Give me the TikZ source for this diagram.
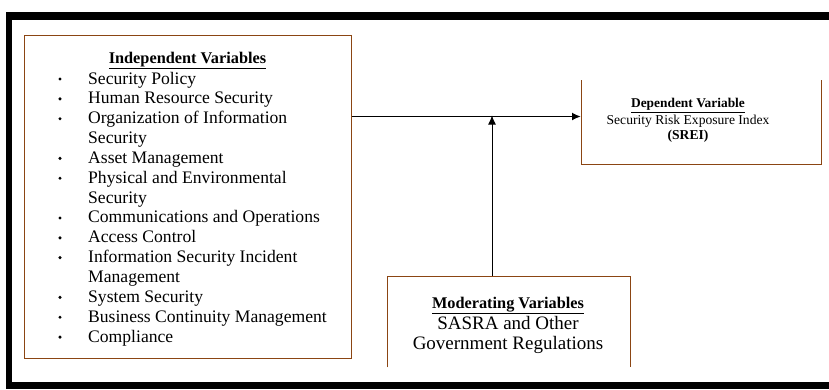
\documentclass[tikz,border=0pt]{standalone}
\usepackage{fontspec}
\setmainfont{Liberation Serif}
\usetikzlibrary{arrows.meta,positioning}

\definecolor{boxbrown}{RGB}{139,69,19}

\tikzset{
  framebar/.style={fill=black},
  varbox/.style={draw=boxbrown,line width=1pt,inner sep=0pt},
  openbox/.style={inner sep=0pt},
  boxside/.style={draw=boxbrown,line width=1pt},
  boxhead/.style={anchor=base,inner sep=0pt,font=\bfseries\fontsize{16.3}{18}\selectfont},
  listitem/.style={anchor=base west,inner sep=0pt,font=\fontsize{17.6}{20}\selectfont},
  deptext/.style={anchor=base,inner sep=0pt,font=\fontsize{13.6}{16}\selectfont},
  modtext/.style={anchor=base,inner sep=0pt,font=\fontsize{19}{21}\selectfont},
  link/.style={-{Latex[length=9pt,width=8pt]}}
}

\begin{document}
\begin{tikzpicture}[x=1pt,y=-1pt]
  \useasboundingbox (0,0) rectangle (829,389);

  % outer frame (top, left and bottom bars)
  \fill[framebar] (6,12) rectangle (829,20);
  \fill[framebar] (6,12) rectangle (12,389);
  \fill[framebar] (6,382) rectangle (829,389);

  % boxes
  \node[varbox,minimum width=327pt,minimum height=323pt,anchor=north west] (indep) at (24,35) {};
  \node[openbox,minimum width=240pt,minimum height=84pt,anchor=north west] (dep) at (581,80) {};
  \node[openbox,minimum width=243pt,minimum height=91pt,anchor=north west] (mod) at (387,276) {};
  \draw[boxside] (dep.north west) -- (dep.south west) -- (dep.south east) -- (dep.north east);
  \draw[boxside] (mod.south west) -- (mod.north west) -- (mod.north east) -- (mod.south east);

  % independent variables
  \node[boxhead] (indephead) at (187.5,63) {\underline{Independent Variables}};
  \foreach \txt/\bul [count=\i] in {Security Policy/1, Human Resource Security/1,
      Organization of Information/1, Security/0, Asset Management/1,
      Physical and Environmental/1, Security/0, Communications and Operations/1,
      Access Control/1, Information Security Incident/1, Management/0,
      System Security/1, Business Continuity Management/1, Compliance/1}
  {
    \node[listitem] (item\i) at (88,{84+19.85*(\i-1)}) {\txt};
    \ifnum\bul=1 \fill (60,{79+19.85*(\i-1)}) circle (1.7pt); \fi
  }

  % dependent variable
  \node[deptext,font=\bfseries\fontsize{13.4}{16}\selectfont] (dephead) at (688,107.5) {\underline{Dependent Variable}};
  \node[deptext] (depname) at (688,124) {Security Risk Exposure Index};
  \node[deptext,font=\bfseries\fontsize{13.6}{16}\selectfont] (depabbr) at (688,139.5) {(SREI)};

  % moderating variables
  \node[boxhead] (modhead) at (508,308) {\underline{Moderating Variables}};
  \node[modtext] (modline1) at (508,329) {SASRA and Other};
  \node[modtext] (modline2) at (508,349.5) {Government Regulations};

  % connectors
  \coordinate (join) at (492,116.5);
  \draw[link,line width=1.8pt] (indep.east |- join) -- (join -| dep.west);
  \draw[link,line width=1pt] (join |- mod.north) -- ([yshift=1pt]join);
\end{tikzpicture}
\end{document}
